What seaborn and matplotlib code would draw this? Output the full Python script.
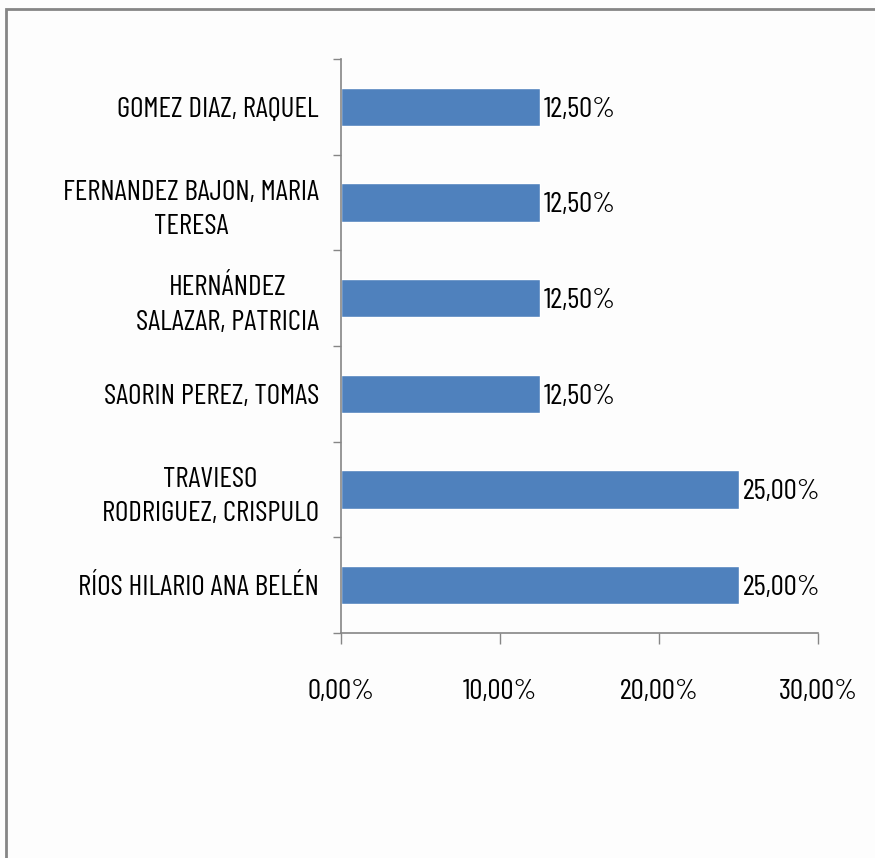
import matplotlib
matplotlib.use("Agg")
import matplotlib.pyplot as plt
import seaborn as sns
import numpy as np
import pandas as pd
from matplotlib.patches import Rectangle
from matplotlib.ticker import FixedLocator

names = [
    "GOMEZ DIAZ, RAQUEL",
    "FERNANDEZ BAJON, MARIA\nTERESA",
    "HERNÁNDEZ\nSALAZAR, PATRICIA",
    "SAORIN PEREZ, TOMAS",
    "TRAVIESO\nRODRIGUEZ, CRISPULO",
    "RÍOS HILARIO ANA BELÉN",
]
values = [12.5, 12.5, 12.5, 12.5, 25.0, 25.0]
xticks = [0, 10, 20, 30]
xtick_labels = ["0,00%", "10,00%", "20,00%", "30,00%"]

sns.set_style("white")
plt.rcParams['font.family'] = ['Barlow Condensed', 'Archivo Narrow', 'DejaVu Sans']
plt.rcParams['text.color'] = '#000000'
plt.rcParams['xtick.color'] = '#868686'
plt.rcParams['ytick.color'] = '#868686'
plt.rcParams['xtick.labelcolor'] = '#000000'
plt.rcParams['ytick.labelcolor'] = '#000000'

FS = 21

df = pd.DataFrame({"name": names, "value": values})

fig = plt.figure(figsize=(8.75, 8.58), dpi=100, facecolor="#FDFDFD")
ax = fig.add_axes([341/875, 1-633/858, (818-341)/875, (633-59)/858])
ax.set_facecolor("#FDFDFD")

sns.barplot(data=df, x="value", y="name", orient="h", color="#4F81BD",
            saturation=1, width=0.4, ax=ax)

ax.set_xlim(0, 30)
ax.set_ylim(len(names)-0.5, -0.5)
ax.set_xticks(xticks)
ax.set_xticklabels(xtick_labels, fontsize=FS)
ax.set_xlabel("")
ax.set_ylabel("")
ax.tick_params(axis="y", which="major", length=0, pad=16, labelsize=FS)
for lab in ax.get_yticklabels():
    lab.set_multialignment("center")
    lab.set_linespacing(1.42)
ax.yaxis.set_minor_locator(FixedLocator(np.arange(-0.5, len(names), 1.0)))
ax.tick_params(axis="y", which="minor", length=6, width=1, color="#868686", left=True)
ax.tick_params(axis="x", which="major", length=8, width=1, color="#868686", pad=25, bottom=True)

for s in ["top", "right"]:
    ax.spines[s].set_visible(False)
for s in ["left", "bottom"]:
    ax.spines[s].set_color("#868686")
    ax.spines[s].set_linewidth(1.2)

for i, v in enumerate(values):
    ax.annotate(f"{v:.2f}".replace(".", ",") + "%", (v, i), xytext=(3, -2),
                textcoords="offset points", va="center", ha="left", fontsize=FS)

fig.patches.append(Rectangle((6/875, -0.1), 1.2, 1-9/858+0.1, transform=fig.transFigure,
                             fill=False, edgecolor="#868686", linewidth=2, zorder=10))

fig.savefig("out.png", dpi=100, facecolor=fig.get_facecolor())
